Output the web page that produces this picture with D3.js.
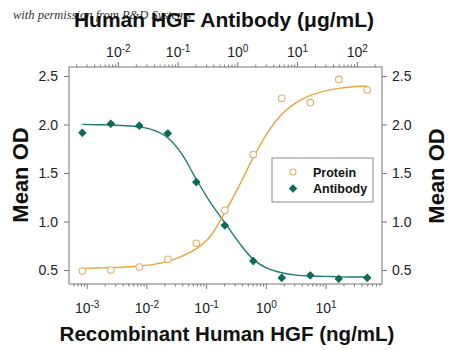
<!DOCTYPE html>
<html><head><meta charset="utf-8">
<script src="https://cdn.jsdelivr.net/npm/d3@7"></script>
<style>body{margin:0;background:#fff}svg{display:block;font-family:"Liberation Sans",Arial,sans-serif}</style>
</head><body><svg id="c" width="450" height="350"></svg>
<script>
// Protein: recombinant human HGF (ng/mL), bottom axis
const proteinConc = [0.000847, 0.00254, 0.00762, 0.0229, 0.0686, 0.206, 0.617, 1.85, 5.56, 16.7, 50];
const proteinOD   = [0.49, 0.50, 0.53, 0.61, 0.775, 1.115, 1.69, 2.27, 2.225, 2.465, 2.355];
// Antibody: human HGF antibody (µg/mL), top axis
const antibodyConc = [0.00254, 0.00762, 0.0229, 0.0686, 0.206, 0.617, 1.85, 5.56, 16.7, 50, 150];
const antibodyOD   = [1.915, 2.008, 1.988, 1.909, 1.407, 0.96, 0.593, 0.42, 0.445, 0.41, 0.42];
// fitted curves
const proteinFitConc = [0.000847,0.00147,0.00254,0.0044,0.00762,0.0132,0.0229,0.0396,0.0686,0.119,0.206,0.356,0.617,1.07,1.85,3.21,5.56,9.62,16.7,28.9,50];
const proteinFitOD   = [0.517,0.521,0.524,0.531,0.541,0.558,0.589,0.644,0.720,0.851,1.091,1.366,1.658,1.916,2.105,2.225,2.301,2.345,2.373,2.390,2.397];
const antibodyFitConc = [0.00254,0.0044,0.00762,0.0132,0.0229,0.0396,0.0686,0.119,0.206,0.356,0.617,1.07,1.85,3.21,5.56,9.62,16.7,28.9,50,86.6,150];
const antibodyFitOD   = [2.002,1.998,1.995,1.988,1.974,1.943,1.864,1.692,1.435,1.194,0.988,0.782,0.610,0.517,0.472,0.448,0.438,0.435,0.431,0.428,0.428];
const yTicks = [0.5, 1.0, 1.5, 2.0, 2.5];
const bottomTicks = [0.001, 0.01, 0.1, 1, 10];
const topTicks = [0.01, 0.1, 1, 10, 100];
const seriesNames = ["Protein", "Antibody"];

const svg = d3.select("#c");
const L = 69, R = 382, T = 67, B = 284;
const xB = d3.scaleLog().domain([0.000506, 88.3]).range([L, R]);
const xT = d3.scaleLog().domain([0.00152, 265]).range([L, R]);
const y = d3.scaleLinear().domain([0.356, 2.593]).range([B, T]);

const orange = "#E9A43C", orangePt = "#E2B06E", teal = "#1F7B72", tealPt = "#0C6B58";
const axisCol = "#777";

function minorTicks(scale){
  const [a,b] = scale.domain();
  const out = [];
  for (let e = Math.floor(Math.log10(a)); e <= Math.ceil(Math.log10(b)); e++){
    for (let k = 2; k <= 9; k++){ const v = k*Math.pow(10,e); if (v>=a && v<=b) out.push(v); }
  }
  return out;
}
function supLabels(sel){
  sel.selectAll(".tick text").each(function(d){
    const t = d3.select(this); const e = Math.round(Math.log10(d));
    t.text(null);
    t.append("tspan").text("10");
    t.append("tspan").attr("dy","-0.5em").attr("font-size","10px").text(e);
  });
}
function styleAxis(g){
  g.select(".domain").remove();
  g.selectAll("line").attr("stroke", axisCol);
  g.selectAll("text").attr("fill","#222").attr("font-size","14px").attr("font-family","Liberation Sans, Arial, sans-serif");
}

// frame
svg.append("rect").attr("x",L).attr("y",T).attr("width",R-L).attr("height",B-T)
  .attr("fill","none").attr("stroke",axisCol).attr("stroke-width",1);

// bottom axis
svg.append("g").attr("transform",`translate(0,${B})`)
  .call(d3.axisBottom(xB).tickValues(minorTicks(xB)).tickSize(2.5).tickFormat(""))
  .call(styleAxis);
svg.append("g").attr("transform",`translate(0,${B})`)
  .call(d3.axisBottom(xB).tickValues(bottomTicks).tickSize(5).tickPadding(14))
  .call(styleAxis).call(supLabels);
// top axis
svg.append("g").attr("transform",`translate(0,${T})`)
  .call(d3.axisTop(xT).tickValues(minorTicks(xT)).tickSize(2.5).tickFormat(""))
  .call(styleAxis);
svg.append("g").attr("transform",`translate(0,${T})`)
  .call(d3.axisTop(xT).tickValues(topTicks).tickSize(5).tickPadding(5))
  .call(styleAxis).call(supLabels);
// left / right axes
svg.append("g").attr("transform",`translate(${L},0)`)
  .call(d3.axisLeft(y).tickValues(yTicks).tickSize(5).tickPadding(6).tickFormat(d3.format(".1f")))
  .call(styleAxis);
svg.append("g").attr("transform",`translate(${R},0)`)
  .call(d3.axisRight(y).tickValues(yTicks).tickSize(5).tickPadding(5).tickFormat(d3.format(".1f")))
  .call(styleAxis);

// curves
const lineP = d3.line().x((d,i)=>xB(proteinFitConc[i])).y(d=>y(d)).curve(d3.curveMonotoneX);
const lineA = d3.line().x((d,i)=>xT(antibodyFitConc[i])).y(d=>y(d)).curve(d3.curveMonotoneX);
svg.append("path").attr("d",lineA(antibodyFitOD)).attr("fill","none").attr("stroke",teal).attr("stroke-width",1.4);
svg.append("path").attr("d",lineP(proteinFitOD)).attr("fill","none").attr("stroke",orange).attr("stroke-width",1.4);

// points
svg.append("g").selectAll("circle").data(proteinOD).join("circle")
  .attr("cx",(d,i)=>xB(proteinConc[i])).attr("cy",d=>y(d)).attr("r",3.3)
  .attr("fill","white").attr("stroke",orangePt).attr("stroke-width",1.1);
const diamond = d3.symbol().type(d3.symbolSquare).size(26);
svg.append("g").selectAll("path").data(antibodyOD).join("path")
  .attr("d",diamond)
  .attr("transform",(d,i)=>`translate(${xT(antibodyConc[i])},${y(d)}) rotate(45)`)
  .attr("fill",tealPt).attr("stroke",tealPt).attr("stroke-width",1).attr("stroke-linejoin","round");

// legend
const lg = svg.append("g");
lg.append("rect").attr("x",272).attr("y",158).attr("width",101).attr("height",44)
  .attr("fill","white").attr("stroke","#8a8a8a").attr("stroke-width",1);
lg.append("circle").attr("cx",293).attr("cy",172).attr("r",3).attr("fill","white").attr("stroke",orangePt).attr("stroke-width",1.1);
lg.append("path").attr("d",diamond).attr("transform","translate(293,188.5) rotate(45)").attr("fill",tealPt).attr("stroke",tealPt).attr("stroke-linejoin","round");
lg.selectAll("text").data(seriesNames).join("text")
  .attr("x",313).attr("y",(d,i)=>176.5+i*16.3).attr("font-size","12.5px").attr("font-weight","bold").attr("fill","#111").text(d=>d);

// titles
svg.append("text").attr("x",13).attr("y",19).attr("font-family","Liberation Serif, serif").attr("font-style","italic")
  .attr("font-size","12.5px").attr("fill","#333").text("with permission from R&D Systems");
svg.append("text").attr("x",224).attr("y",26.5).attr("text-anchor","middle").attr("font-size","21px").attr("font-weight","bold").attr("fill","#111")
  .text("Human HGF Antibody (\u03bcg/mL)");
svg.append("text").attr("x",227).attr("y",341).attr("text-anchor","middle").attr("font-size","20.5px").attr("font-weight","bold").attr("fill","#111")
  .text("Recombinant Human HGF (ng/mL)");
svg.append("text").attr("transform","translate(28,175) rotate(-90)").attr("text-anchor","middle").attr("font-size","22px").attr("font-weight","bold").attr("fill","#111").text("Mean OD");
svg.append("text").attr("transform","translate(444,176) rotate(-90)").attr("text-anchor","middle").attr("font-size","22px").attr("font-weight","bold").attr("fill","#111").text("Mean OD");
</script></body></html>
